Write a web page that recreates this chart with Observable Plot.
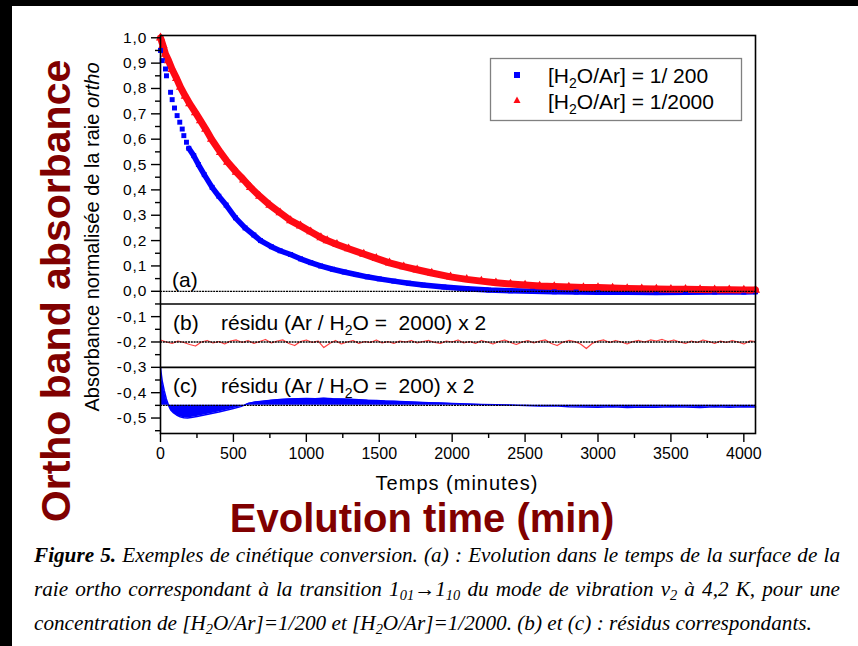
<!DOCTYPE html>
<html><head><meta charset="utf-8">
<script src="https://cdn.jsdelivr.net/npm/d3@7"></script>
<script src="https://cdn.jsdelivr.net/npm/@observablehq/plot@0.6"></script>
<style>
html,body{margin:0;padding:0;background:#fff;width:858px;height:646px;overflow:hidden;}
#wrap{position:relative;width:858px;height:646px;font-family:"Liberation Sans",Arial,sans-serif;}
#chart{position:absolute;left:0;top:0;}
#over{position:absolute;left:0;top:0;pointer-events:none;}
.strip{position:absolute;background:#000;}
.cap{position:absolute;left:34px;white-space:nowrap;font-family:"Liberation Serif","Times New Roman",serif;font-style:italic;font-size:21.2px;line-height:21px;color:#000;}
.cap .s{font-size:0.68em;position:relative;top:0.3em;}
g[aria-label="y-axis tick label"] text{letter-spacing:1px;}
</style></head>
<body><div id="wrap">
<div id="chart"></div>
<svg id="over" width="858" height="646" font-family="Liberation Sans, Arial, sans-serif">
  <text transform="translate(70,291) rotate(-90)" text-anchor="middle" font-size="41" font-weight="bold" fill="#800000">Ortho band absorbance</text>
  <text transform="translate(99,237) rotate(-90)" text-anchor="middle" font-size="20" fill="#000">Absorbance normalisée de la raie <tspan font-style="italic">ortho</tspan></text>
  <text x="422" y="532" text-anchor="middle" font-size="40" font-weight="bold" fill="#800000">Evolution time (min)</text>
  <text x="457" y="490" text-anchor="middle" font-size="20" letter-spacing="1" fill="#000">Temps (minutes)</text>
  <rect x="490.5" y="58.5" width="251" height="62" fill="#fff" stroke="#808080" stroke-width="1.3"/>
  <rect x="514" y="72" width="6" height="6" fill="#0000ff"/>
  <path d="M517,96.5 L520.5,103 L513.5,103 Z" fill="#ff0a14"/>
  <text x="548" y="83" font-size="21" style="white-space:pre">[H<tspan font-size="14" dy="5">2</tspan><tspan dy="-5">O/Ar] = 1/ 200</tspan></text>
  <text x="548" y="108.5" font-size="21" style="white-space:pre">[H<tspan font-size="14" dy="5">2</tspan><tspan dy="-5">O/Ar] = 1/2000</tspan></text>
  <text x="172" y="287" font-size="21">(a)</text>
  <text x="173" y="330" font-size="21">(b)</text>
  <text x="221" y="330" font-size="21" style="white-space:pre">résidu (Ar / H<tspan font-size="14" dy="5">2</tspan><tspan dy="-5">O =  2000) x 2</tspan></text>
  <text x="173" y="393" font-size="21">(c)</text>
  <text x="221" y="393" font-size="21" style="white-space:pre">résidu (Ar / H<tspan font-size="14" dy="5">2</tspan><tspan dy="-5">O =  200) x 2</tspan></text>
  <path d="M0,369 L5,372.5 L0,376 Z" fill="#fff"/>
</svg>
<div class="cap" data-w="806" style="top:545px"><b>Figure 5.</b> Exemples de cinétique conversion. (a) : Evolution dans le temps de la surface de la</div>
<div class="cap" data-w="806" style="top:579px">raie ortho correspondant à la transition 1<span class="s">01</span>→1<span class="s">10</span> du mode de vibration ν<span class="s">2</span> à 4,2 K, pour une</div>
<div class="cap" style="top:613px">concentration de [H<span class="s">2</span>O/Ar]=1/200 et [H<span class="s">2</span>O/Ar]=1/2000. (b) et (c) : résidus correspondants.</div>
<div class="strip" style="left:0;top:0;width:858px;height:6px"></div>
<div class="strip" style="left:0;top:0;width:12px;height:646px"></div>
</div>
<script>
// ---- Panel (a): normalised ortho absorbance, [H2O/Ar] = 1/200 (blue squares)
const blueT = [0, 12, 34, 41, 69, 80, 96, 114, 132, 149, 160, 178, 194, 228, 260, 300, 354, 400, 450, 514, 580, 640, 686, 760, 820, 892, 960, 1030, 1097, 1180, 1260, 1340, 1417, 1500, 1600, 1700, 1800, 1943, 2100, 2250, 2400, 2550, 2700, 2850, 3000, 3200, 3400, 3600, 3800, 4000, 4080];
const blueV = [0.95, 0.91, 0.877, 0.85, 0.785, 0.756, 0.723, 0.693, 0.667, 0.64, 0.614, 0.588, 0.564, 0.535, 0.5, 0.46, 0.41, 0.375, 0.34, 0.29, 0.25, 0.222, 0.2, 0.176, 0.16, 0.145, 0.128, 0.113, 0.1, 0.087, 0.076, 0.066, 0.057, 0.049, 0.04, 0.032, 0.025, 0.017, 0.01, 0.005, 0.002, 0.0, -0.002, -0.003, -0.004, -0.004, -0.005, -0.004, -0.003, -0.003, -0.002];
// ---- Panel (a): [H2O/Ar] = 1/2000 (red triangles)
const redT = [0, 17, 34, 55, 80, 110, 137, 170, 200, 240, 274, 310, 350, 411, 460, 520, 570, 617, 680, 750, 820, 892, 960, 1030, 1100, 1143, 1210, 1290, 1394, 1480, 1570, 1668, 1760, 1860, 1989, 2100, 2200, 2300, 2400, 2500, 2600, 2700, 2800, 2900, 3000, 3100, 3200, 3300, 3400, 3500, 3600, 3700, 3800, 3900, 4000, 4080];
const redV = [1.0, 0.97, 0.936, 0.91, 0.875, 0.84, 0.805, 0.77, 0.74, 0.705, 0.673, 0.64, 0.6, 0.548, 0.51, 0.47, 0.44, 0.41, 0.375, 0.34, 0.31, 0.279, 0.258, 0.235, 0.212, 0.2, 0.185, 0.168, 0.147, 0.13, 0.112, 0.097, 0.085, 0.072, 0.057, 0.047, 0.04, 0.034, 0.029, 0.025, 0.021, 0.019, 0.017, 0.015, 0.015, 0.013, 0.011, 0.01, 0.009, 0.008, 0.008, 0.007, 0.006, 0.006, 0.005, 0.005];
// ---- Panel (b): residual (Ar/H2O = 2000) x 2, offset to -0.2
const resRedT = [0, 40, 80, 120, 160, 200, 240, 280, 320, 360, 400, 440, 480, 520, 560, 600, 640, 680, 720, 760, 800, 840, 880, 920, 960, 1000, 1040, 1080, 1120, 1160, 1200, 1240, 1280, 1320, 1360, 1400, 1440, 1480, 1520, 1560, 1600, 1640, 1680, 1720, 1760, 1800, 1840, 1880, 1920, 1960, 2000, 2040, 2080, 2120, 2160, 2200, 2240, 2280, 2320, 2360, 2400, 2440, 2480, 2520, 2560, 2600, 2640, 2680, 2720, 2760, 2800, 2840, 2880, 2920, 2960, 3000, 3040, 3080, 3120, 3160, 3200, 3240, 3280, 3320, 3360, 3400, 3440, 3480, 3520, 3560, 3600, 3640, 3680, 3720, 3760, 3800, 3840, 3880, 3920, 3960, 4000, 4040, 4080];
const resRedV = [-0.192, -0.2, -0.206, -0.196, -0.202, -0.21, -0.216, -0.2, -0.194, -0.204, -0.198, -0.208, -0.196, -0.192, -0.202, -0.194, -0.206, -0.198, -0.19, -0.204, -0.196, -0.192, -0.206, -0.214, -0.198, -0.192, -0.202, -0.196, -0.222, -0.206, -0.194, -0.208, -0.2, -0.194, -0.206, -0.198, -0.202, -0.192, -0.204, -0.198, -0.206, -0.196, -0.2, -0.194, -0.204, -0.198, -0.194, -0.202, -0.206, -0.196, -0.2, -0.192, -0.204, -0.198, -0.206, -0.194, -0.2, -0.208, -0.198, -0.192, -0.202, -0.21, -0.2, -0.194, -0.204, -0.196, -0.192, -0.206, -0.214, -0.2, -0.194, -0.198, -0.208, -0.226, -0.206, -0.196, -0.192, -0.202, -0.194, -0.2, -0.208, -0.198, -0.194, -0.2, -0.192, -0.196, -0.19, -0.198, -0.192, -0.2, -0.206, -0.196, -0.202, -0.192, -0.198, -0.206, -0.196, -0.202, -0.194, -0.2, -0.208, -0.196, -0.198];
// ---- Panel (c): residual (Ar/H2O = 200) x 2, offset to -0.45
const resBlueT = [0, 6, 12, 25, 40, 55, 70, 90, 110, 135, 160, 185, 210, 250, 300, 350, 400, 450, 500, 550, 600, 650, 700, 760, 820, 880, 940, 1000, 1060, 1120, 1180, 1240, 1300, 1360, 1420, 1480, 1540, 1600, 1680, 1760, 1840, 1920, 2000, 2100, 2200, 2300, 2400, 2500, 2600, 2700, 2800, 2900, 3000, 3100, 3200, 3300, 3400, 3500, 3600, 3700, 3800, 3900, 4000, 4080];
const resBlueV = [-0.30, -0.33, -0.355, -0.39, -0.425, -0.45, -0.468, -0.48, -0.488, -0.495, -0.499, -0.5, -0.498, -0.494, -0.488, -0.482, -0.476, -0.469, -0.462, -0.455, -0.443, -0.437, -0.434, -0.43, -0.427, -0.425, -0.424, -0.423, -0.424, -0.422, -0.424, -0.425, -0.426, -0.428, -0.43, -0.431, -0.433, -0.434, -0.436, -0.438, -0.44, -0.441, -0.443, -0.445, -0.447, -0.448, -0.449, -0.451, -0.453, -0.452, -0.455, -0.456, -0.457, -0.455, -0.458, -0.456, -0.457, -0.455, -0.456, -0.458, -0.455, -0.457, -0.455, -0.456];
const resBlueBase = -0.45;
// ---- reference lines and ticks
const zeroLines = [0, -0.2, -0.45];
const panelSeparators = [-0.05, -0.3];
const yMajor = [-0.5, -0.4, -0.3, -0.2, -0.1, 0, 0.1, 0.2, 0.3, 0.4, 0.5, 0.6, 0.7, 0.8, 0.9, 1.0];
const yMinor = [-0.55, -0.45, -0.35, -0.25, -0.15, -0.05, 0.05, 0.15, 0.25, 0.35, 0.45, 0.55, 0.65, 0.75, 0.85, 0.95];
const xMajor = [0, 500, 1000, 1500, 2000, 2500, 3000, 3500, 4000];
const xMinor = [250, 750, 1250, 1750, 2250, 2750, 3250, 3750];

const blue = blueT.map((t, i) => ({t, v: blueV[i]}));
const red = redT.map((t, i) => ({t, v: redV[i]}));
const resRed = resRedT.map((t, i) => ({t, v: resRedV[i]}));
const resBlue = resBlueT.map((t, i) => ({t, v: resBlueV[i]}));
const BLUE = "#0000ff", RED = "#ff0a14";
const fmt = d => (d < -1e-9 ? "-" : "") + Math.abs(d).toFixed(1).replace(".", ",");

const chart = Plot.plot({
  width: 858, height: 500,
  marginLeft: 160, marginRight: 103, marginTop: 35, marginBottom: 67,
  style: {fontFamily: "Liberation Sans, Arial, sans-serif", background: "transparent", color: "#000"},
  x: {domain: [0, 4080]},
  y: {domain: [-0.561, 1.009]},
  marks: [
    Plot.areaY(resBlue, {x: "t", y1: () => resBlueBase, y2: "v", fill: BLUE}),
    Plot.lineY(resBlue, {x: "t", y: "v", stroke: BLUE, strokeWidth: 1.5}),
    Plot.lineY(resRed, {x: "t", y: "v", stroke: "#ff4040", strokeWidth: 1.2}),
    Plot.lineY(blue.filter(d => d.t >= 194), {x: "t", y: "v", stroke: BLUE, strokeWidth: 5.5}),
    Plot.lineY(red, {x: "t", y: "v", stroke: RED, strokeWidth: 7}),
    Plot.dot(blue, {x: "t", y: "v", symbol: "square", r: 2.8, fill: BLUE}),
    Plot.dot(red, {x: "t", y: "v", symbol: "triangle", r: 3.4, fill: RED}),
    Plot.ruleY(zeroLines, {stroke: "#000", strokeWidth: 1.3, strokeDasharray: "2,0.8"}),
    Plot.ruleY(panelSeparators, {stroke: "#000", strokeWidth: 1.6}),
    Plot.frame({stroke: "#000", strokeWidth: 1.6}),
    Plot.axisY({ticks: yMajor, tickSize: 9, tickPadding: 4, tickFormat: fmt, fontSize: 15.5, label: null, strokeWidth: 1.4}),
    Plot.axisY({ticks: yMinor, tickSize: 5, tickFormat: () => "", label: null, strokeWidth: 1.4}),
    Plot.axisX({ticks: xMajor, tickSize: 9, tickPadding: 5, tickFormat: d => String(d), fontSize: 16, label: null, strokeWidth: 1.4}),
    Plot.axisX({ticks: xMinor, tickSize: 5, tickFormat: () => "", label: null, strokeWidth: 1.4})
  ]
});
document.getElementById("chart").appendChild(chart);

document.querySelectorAll(".cap[data-w]").forEach(el => {
  const target = +el.dataset.w;
  const w = el.getBoundingClientRect().width;
  const spaces = (el.textContent.match(/ /g) || []).length;
  if (spaces) el.style.wordSpacing = ((target - w) / spaces) + "px";
});
</script>
</body></html>
